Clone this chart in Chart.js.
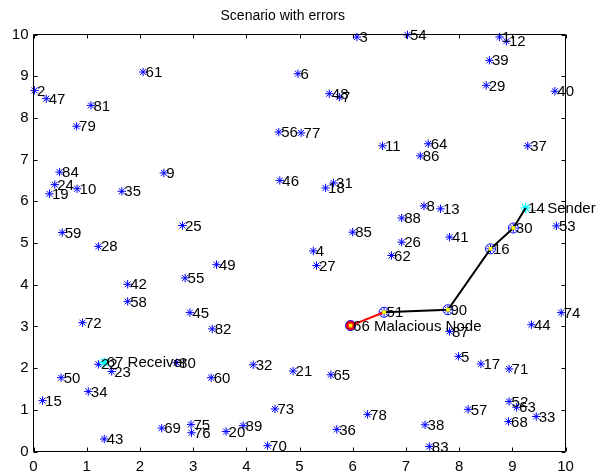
<!DOCTYPE html>
<html><head><meta charset="utf-8">
<script src="https://cdn.jsdelivr.net/npm/chart.js@4.4.1/dist/chart.umd.min.js"></script>
<style>html,body{margin:0;padding:0;background:#fff}canvas{display:block}</style>
</head><body>
<canvas id="c" width="613" height="474"></canvas>
<script>
// ---- data ----
const nodeIds = [1,2,3,4,5,6,7,8,9,10,11,12,13,14,15,16,17,18,19,20,21,22,23,24,25,26,27,28,29,30,31,32,33,34,35,36,37,38,39,40,41,42,43,44,45,46,47,48,49,50,51,52,53,54,55,56,57,58,59,60,61,62,63,64,65,66,67,68,69,70,71,72,73,74,75,76,77,78,79,80,81,82,83,84,85,86,87,88,89,90];
const nodeX = [8.76,0.02,6.08,5.26,7.99,4.97,5.75,7.34,2.45,0.82,6.56,8.89,7.65,9.25,0.17,8.59,8.41,5.49,0.30,3.62,4.88,1.22,1.47,0.40,2.80,6.92,5.32,1.22,8.51,9.02,5.64,4.13,9.45,1.03,1.66,5.70,9.29,7.36,8.57,9.80,7.82,1.77,1.33,9.36,2.94,4.63,0.24,5.56,3.44,0.52,6.59,8.94,9.83,7.03,2.85,4.61,8.17,1.77,0.54,3.34,2.06,6.73,9.08,7.42,5.59,5.96,1.33,8.93,2.41,4.40,8.94,0.92,4.54,9.92,2.96,2.97,5.03,6.28,0.81,2.69,1.08,3.36,7.44,0.49,6.00,7.27,7.82,6.92,3.94,7.79];
const nodeY = [9.94,8.66,9.94,4.81,2.28,9.06,8.50,5.89,6.68,6.30,7.33,9.84,5.82,5.84,1.22,4.86,2.10,6.32,6.18,0.48,1.93,2.09,1.92,6.40,5.42,5.02,4.46,4.92,8.78,5.36,6.44,2.08,0.84,1.44,6.24,0.53,7.33,0.64,9.38,8.64,5.14,4.01,0.30,3.04,3.33,6.50,8.46,8.58,4.48,1.77,3.34,1.20,5.41,9.99,4.16,7.66,1.01,3.60,5.25,1.77,9.10,4.70,1.06,7.38,1.84,3.02,2.14,0.72,0.56,0.14,1.98,3.09,1.02,3.33,0.65,0.45,7.64,0.89,7.80,2.13,8.30,2.94,0.12,6.70,5.26,7.09,2.88,5.60,0.62,3.40];
const routeIds = [14,30,16,90,51];
const attackIds = [51,66];
const senderId = 14;
const receiverId = 67;
const maliciousId = 66;
const xTicks = [0,1,2,3,4,5,6,7,8,9,10];
const yTicks = [0,1,2,3,4,5,6,7,8,9,10];
const xTickLabels = ['0','1','2','3','4','5','6','7','8','9','10'];
const yTickLabels = ['0','1','2','3','4','5','6','7','8','9','10'];
const titleText = 'Scenario with errors';

// ---- helpers ----
const FAM = '"Liberation Sans", Arial, Helvetica, sans-serif';
const pt = id => { const i = nodeIds.indexOf(id); return {x: nodeX[i], y: nodeY[i]}; };
const BLUE = 'rgb(0,0,255)';

const overlay = {
  id: 'overlay',
  afterDatasetsDraw(chart) {
    const {ctx, scales: {x, y}} = chart;
    ctx.save();
    ctx.font = '15px ' + FAM;
    ctx.fillStyle = '#000';
    ctx.textBaseline = 'middle';
    ctx.textAlign = 'left';
    nodeIds.forEach((id, i) => {
      const px = x.getPixelForValue(nodeX[i]);
      const py = y.getPixelForValue(nodeY[i]);
      let t = String(id);
      if (id === receiverId) t += ' Receiver';
      if (id === maliciousId) t += ' Malacious Node';
      ctx.fillText(t, px + 2.5, py + 1);
      if (id === senderId) ctx.fillText('\u2190 Sender', px + 2.5, py + 1);
    });
    ctx.restore();
  },
  afterDraw(chart) {
    const {ctx, chartArea: a, scales: {x, y}} = chart;
    ctx.save();
    ctx.strokeStyle = '#000';
    ctx.lineWidth = 1;
    ctx.beginPath();
    ctx.rect(a.left, a.top, a.right - a.left, a.bottom - a.top);
    ctx.stroke();
    const L = 4;
    ctx.beginPath();
    xTicks.forEach(v => {
      const px = Math.round(x.getPixelForValue(v)) + 0.5;
      ctx.moveTo(px, a.bottom); ctx.lineTo(px, a.bottom - L);
      ctx.moveTo(px, a.top); ctx.lineTo(px, a.top + L);
    });
    yTicks.forEach(v => {
      const py = Math.round(y.getPixelForValue(v)) + 0.5;
      ctx.moveTo(a.left, py); ctx.lineTo(a.left + L, py);
      ctx.moveTo(a.right, py); ctx.lineTo(a.right - L, py);
    });
    ctx.stroke();
    ctx.restore();
  }
};

const others = nodeIds.filter(id => id !== senderId && id !== receiverId);
const markedIds = routeIds.filter(id => id !== senderId).concat([maliciousId]);

new Chart(document.getElementById('c'), {
  type: 'scatter',
  data: {
    datasets: [
      { // yellow centres
        data: markedIds.map(pt), pointStyle: 'rect', pointRadius: 2.6,
        backgroundColor: 'rgb(255,255,0)', borderColor: 'rgb(255,255,0)', borderWidth: 0,
        order: 0, clip: false
      },
      { // route
        data: routeIds.map(pt), showLine: true, borderColor: '#000', borderWidth: 2,
        pointRadius: 0, order: 1, clip: false
      },
      { // attack segment
        data: attackIds.map(pt), showLine: true, borderColor: 'rgb(255,0,0)', borderWidth: 2,
        pointRadius: 0, order: 2, clip: false
      },
      { // route circles
        data: routeIds.filter(id => id !== senderId).map(pt), pointStyle: 'circle', pointRadius: 5,
        backgroundColor: 'rgba(0,0,0,0)', borderColor: BLUE, borderWidth: 1, order: 3, clip: false
      },
      { // malicious node
        data: [pt(maliciousId)], pointStyle: 'circle', pointRadius: 5,
        backgroundColor: 'rgb(255,0,0)', borderColor: BLUE, borderWidth: 1, order: 4, clip: false
      },
      { // sender / receiver
        data: [pt(senderId), pt(receiverId)], pointStyle: 'star', pointRadius: 5,
        borderColor: 'rgb(0,255,255)', backgroundColor: 'rgb(0,255,255)', borderWidth: 1.3, order: 5, clip: false
      },
      { // all nodes
        data: others.map(pt), pointStyle: 'star', pointRadius: 4.2,
        borderColor: BLUE, backgroundColor: BLUE, borderWidth: 1, order: 6, clip: false
      }
    ]
  },
  options: {
    responsive: false,
    animation: false,
    events: [],
    layout: { padding: { left: 0, right: 47.5, top: 0, bottom: 0 } },
    plugins: {
      legend: { display: false },
      tooltip: { enabled: false },
      title: {
        display: true, text: titleText, color: '#000',
        font: { family: FAM, size: 14, weight: 'normal', lineHeight: 1.2 },
        padding: { top: 8, bottom: 9.7 }
      }
    },
    scales: {
      x: {
        type: 'linear', min: 0, max: 10,
        afterBuildTicks: s => { s.ticks = xTicks.map(v => ({value: v})); },
        ticks: { color: '#000', font: { family: FAM, size: 15 }, padding: 6, maxRotation: 0, autoSkip: false,
                 callback: (v, i) => xTickLabels[i] },
        grid: { display: false, drawTicks: false },
        border: { display: false },
        afterFit: s => { s.height = 22.5; }
      },
      y: {
        type: 'linear', min: 0, max: 10,
        afterBuildTicks: s => { s.ticks = yTicks.map(v => ({value: v})); },
        ticks: { color: '#000', font: { family: FAM, size: 15 }, padding: 5, autoSkip: false,
                 callback: (v, i) => yTickLabels[i] },
        grid: { display: false, drawTicks: false },
        border: { display: false },
        afterFit: s => { s.width = 33.5; }
      }
    }
  },
  plugins: [overlay]
});
</script>
</body></html>
